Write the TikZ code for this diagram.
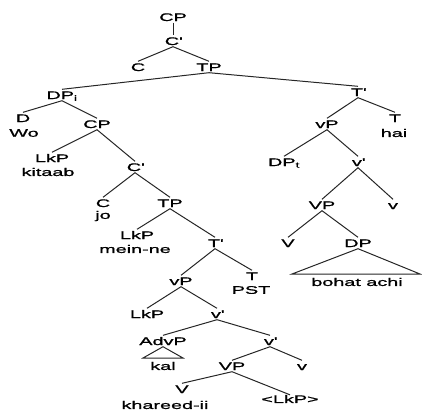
\documentclass[tikz,border=0pt]{standalone}
\usepackage{fontspec}
\setmainfont[FakeStretch=1.8,FakeBold=1.2]{Liberation Sans}
\newcommand{\barmark}{\textquotesingle}
\begin{document}
\begin{tikzpicture}[x=1pt,y=-1pt,
  cat/.style={inner sep=1.5pt,text height=8pt,text depth=0pt,font=\fontsize{11}{12}\selectfont},
  word/.style={inner sep=0pt,font=\fontsize{11}{12}\selectfont},
  br/.style={line width=1pt,draw=black!85}]
\useasboundingbox (0,0) rectangle (422,410);
% category labels
\node[cat] (cp1) at (173,17) {CP};
\node[cat] (cb1) at (173,41) {C\barmark};
\node[cat] (c1) at (138,67) {C};
\node[cat] (tp1) at (209,67) {TP};
\node[cat] (dpi) at (62,95) {DP\textsubscript{i}};
\node[cat] (tb1) at (358,92) {T\barmark};
\node[cat] (d1) at (23,118) {D};
\node[word] (wo) at (24,133) {Wo};
\node[cat] (cp2) at (97,124) {CP};
\node[cat] (vp1) at (327,124) {vP};
\node[cat] (t1) at (395,118) {T};
\node[word] (hai) at (394,133) {hai};
\node[cat] (lkp1) at (52,158) {LkP};
\node[word] (kitaab) at (48,172) {kitaab};
\node[cat] (cb2) at (135,167) {C\barmark};
\node[cat] (dpt) at (284,162) {DP\textsubscript{t}};
\node[cat] (vb1) at (358,162) {v\barmark};
\node[cat] (c2) at (103,203) {C};
\node[word] (jo) at (103,216) {jo};
\node[cat] (tp2) at (170,203) {TP};
\node[cat] (VP1) at (322,205) {VP};
\node[cat] (v1) at (393,205) {v};
\node[cat] (lkp2) at (137,235) {LkP};
\node[word] (meinne) at (135,249) {mein-ne};
\node[cat] (tb2) at (215,243) {T\barmark};
\node[cat] (V1) at (288,243) {V};
\node[cat] (dp1) at (358,243) {DP};
\node[word] (bohat) at (357,282) {bohat achi};
\node[cat] (vp2) at (181,281) {vP};
\node[cat] (t2) at (252,276) {T};
\node[word] (pst) at (251,290) {PST};
\node[cat] (lkp3) at (147,314) {LkP};
\node[cat] (vb2) at (217,314) {v\barmark};
\node[cat] (advp) at (163,341) {AdvP};
\node[cat] (vb3) at (270,341) {v\barmark};
\node[word] (kal) at (163,366) {kal};
\node[cat] (VP2) at (232,366) {VP};
\node[cat] (v2) at (302,366) {v};
\node[cat] (V2) at (182,389) {V};
\node[word] (khareed) at (165,405) {khareed-ii};
\node[word] (lkptr) at (290,399) {<LkP>};
% branches
\draw[br] (cp1.south) -- (cb1.north);
\draw[br] (c1.north) -- (cb1.south) -- (tp1.north);
\draw[br] (dpi.north) -- (tp1.south) -- (tb1.north);
\draw[br] (d1.north) -- (dpi.south) -- (cp2.north);
\draw[br] (vp1.north) -- (tb1.south) -- (t1.north);
\draw[br] (lkp1.north) -- (cp2.south) -- (cb2.north);
\draw[br] (dpt.north) -- (vp1.south) -- (vb1.north);
\draw[br] (c2.north) -- (cb2.south) -- (tp2.north);
\draw[br] (VP1.north) -- (vb1.south) -- (v1.north);
\draw[br] (lkp2.north) -- (tp2.south) -- (tb2.north);
\draw[br] (V1.north) -- (VP1.south) -- (dp1.north);
\draw[br] (vp2.north) -- (tb2.south) -- (t2.north);
\draw[br] (lkp3.north) -- (vp2.south) -- (vb2.north);
\draw[br] (advp.north) -- (vb2.south) -- (vb3.north);
\draw[br] (VP2.north) -- (vb3.south) -- (v2.north);
\draw[br] (V2.north) -- (VP2.south) -- (lkptr.north);
% triangles over phrases
\coordinate (dpl) at (292,274);
\coordinate (dpr) at (420,274);
\draw[br] (dp1.south) -- (dpl) -- (dpr) -- cycle;
\coordinate (advl) at (143,358);
\coordinate (advr) at (183,358);
\draw[br] (advp.south) -- (advl) -- (advr) -- cycle;
\end{tikzpicture}
\end{document}
